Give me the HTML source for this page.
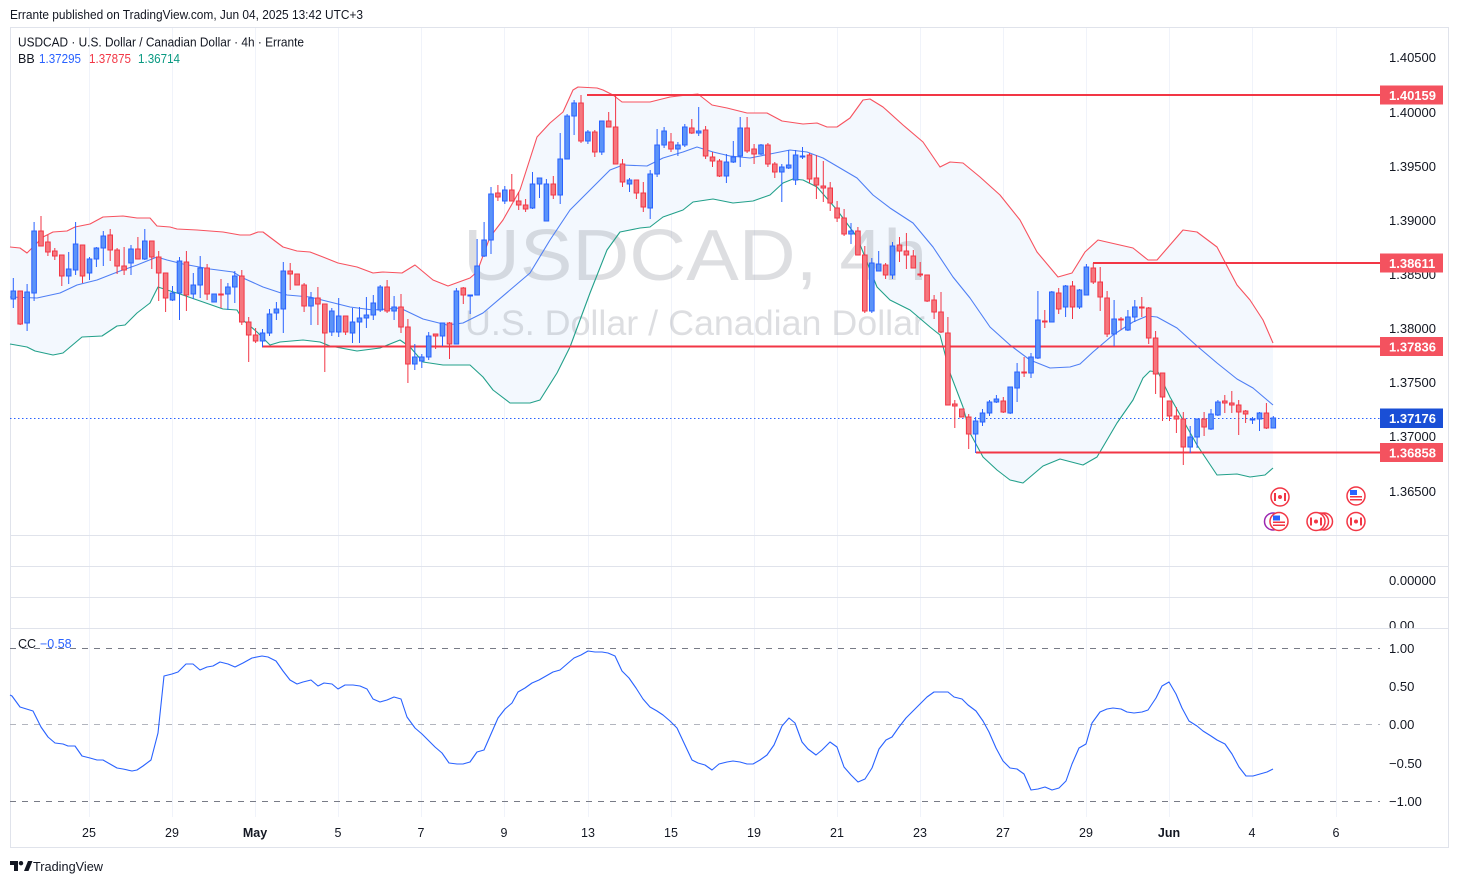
<!DOCTYPE html>
<html><head><meta charset="utf-8"><style>
html,body{margin:0;padding:0;background:#fff;}
svg{display:block;font-family:"Liberation Sans",sans-serif;}
</style></head><body>
<svg width="1459" height="884" viewBox="0 0 1459 884" xmlns="http://www.w3.org/2000/svg">
<rect width="1459" height="884" fill="#fff"/>
<text x="10" y="19" font-size="12.5" fill="#131722" textLength="353" lengthAdjust="spacingAndGlyphs">Errante published on TradingView.com, Jun 04, 2025 13:42 UTC+3</text>
<g stroke="#f0f3fa" stroke-width="1">
<path d="M89.5 28V817M172.5 28V817M255.5 28V817M338.5 28V817M421.5 28V817M504.5 28V817M588.5 28V817M671.5 28V817M754.5 28V817M837.5 28V817M920.5 28V817M1003.5 28V817M1086.5 28V817M1169.5 28V817M1252.5 28V817M1336.5 28V817"/>
</g>
<rect x="10.5" y="27.5" width="1438" height="820" fill="none" stroke="#e0e3eb"/>
<g stroke="#e0e3eb"><path d="M10 535.5H1449M10 566.5H1449M10 597.5H1449M10 628.5H1449"/></g>
<polygon fill="#f3f8fe" points="10,247 20,248 27,253 35,245 43,237 53,232 67,231 75,227 90,224 103,217 123,216 137,218 150,218 157,226 170,227 177,229 197,230 223,232 240,235 250,235 258,232 263,232 283,247 297,251 310,252 323,257 338,263 357,267 373,273 383,272 402,273 415,265 433,280 448,286 470,278 477,272 490,237 503,220 520,190 537,137 550,123 563,112 573,90 578,87 597,88 603,90 613,95 622,102 640,102 650,102 670,97 687,95 698,94 712,105 727,108 747,113 767,113 782,121 803,124 817,123 827,127 837,127 850,118 863,100 870,99 883,107 903,125 923,142 940,167 950,162 963,163 980,177 1000,195 1020,220 1037,252 1058,277 1072,273 1085,252 1098,240 1133,248 1148,260 1157,260 1170,245 1183,230 1197,232 1217,247 1237,285 1250,300 1263,320 1273,343 1273,468 1265,475 1250,477 1237,474 1217,475 1197,445 1183,420 1170,397 1158,372 1150,371 1143,378 1133,400 1117,423 1097,457 1083,465 1060,459 1043,466 1023,483 1010,480 997,470 983,457 970,433 963,407 950,373 940,335 930,327 910,310 890,300 877,287 857,237 837,210 817,187 803,180 793,179 783,183 770,195 753,201 733,203 713,199 693,202 683,210 663,217 650,227 640,228 620,232 607,250 590,293 570,347 557,373 540,400 530,403 510,403 493,390 483,377 470,365 443,365 423,362 410,347 400,340 380,348 357,351 330,346 320,342 303,340 280,342 270,345 257,332 243,320 237,310 223,309 203,302 180,294 167,290 158,287 150,303 137,313 125,325 117,326 102,336 82,337 63,353 53,355 35,351 27,347 10,344"/>
<text x="463" y="280" font-size="72" fill="#787b86" fill-opacity="0.25" textLength="464" lengthAdjust="spacingAndGlyphs">USDCAD, 4h</text>
<text x="465" y="335" font-size="35" fill="#787b86" fill-opacity="0.25" textLength="460" lengthAdjust="spacingAndGlyphs">U.S. Dollar / Canadian Dollar</text>
<g fill="none" stroke-width="1.1" stroke-linejoin="round">
<polyline stroke="#f7525f" points="10,247 20,248 27,253 35,245 43,237 53,232 67,231 75,227 90,224 103,217 123,216 137,218 150,218 157,226 170,227 177,229 197,230 223,232 240,235 250,235 258,232 263,232 283,247 297,251 310,252 323,257 338,263 357,267 373,273 383,272 402,273 415,265 433,280 448,286 470,278 477,272 490,237 503,220 520,190 537,137 550,123 563,112 573,90 578,87 597,88 603,90 613,95 622,102 640,102 650,102 670,97 687,95 698,94 712,105 727,108 747,113 767,113 782,121 803,124 817,123 827,127 837,127 850,118 863,100 870,99 883,107 903,125 923,142 940,167 950,162 963,163 980,177 1000,195 1020,220 1037,252 1058,277 1072,273 1085,252 1098,240 1133,248 1148,260 1157,260 1170,245 1183,230 1197,232 1217,247 1237,285 1250,300 1263,320 1273,343"/>
<polyline stroke="#4f7ff5" points="10,297 37,298 60,293 77,285 97,280 120,271 137,265 157,257 167,260 183,264 210,269 233,272 243,278 263,287 287,295 310,297 330,302 350,307 373,310 400,308 423,319 447,325 463,323 483,313 510,290 530,273 550,240 570,210 593,187 610,170 623,165 647,166 663,158 683,152 697,147 713,152 730,156 750,158 770,154 790,150 807,152 823,158 840,168 857,178 873,195 890,208 913,223 933,247 953,277 970,298 990,327 1010,345 1030,360 1050,368 1070,367 1080,364 1093,352 1113,335 1133,322 1147,316 1157,317 1177,328 1197,346 1217,363 1237,379 1253,388 1273,405"/>
<polyline stroke="#22a08a" points="10,344 27,347 35,351 53,355 63,353 82,337 102,336 117,326 125,325 137,313 150,303 158,287 167,290 180,294 203,302 223,309 237,310 243,320 257,332 270,345 280,342 303,340 320,342 330,346 357,351 380,348 400,340 410,347 423,362 443,365 470,365 483,377 493,390 510,403 530,403 540,400 557,373 570,347 590,293 607,250 620,232 640,228 650,227 663,217 683,210 693,202 713,199 733,203 753,201 770,195 783,183 793,179 803,180 817,187 837,210 857,237 877,287 890,300 910,310 930,327 940,335 950,373 963,407 970,433 983,457 997,470 1010,480 1023,483 1043,466 1060,459 1083,465 1097,457 1117,423 1133,400 1143,378 1150,371 1158,372 1170,397 1183,420 1197,445 1217,475 1237,474 1250,477 1265,475 1273,468"/>
</g>
<g stroke="#f23645" stroke-width="2">
<path d="M587 95H1380M1093 263H1380M262 346.5H1380M976 452.5H1380"/>
</g>
<path d="M10 418.5H1380" stroke="#2962ff" stroke-width="1" stroke-dasharray="1.5,2.5"/>
<path stroke="#2962ff" stroke-width="1" d="M13.3 278V308M27.1 284V331M34.1 222V301M68.7 252V284M75.6 222V275M89.5 257V280M96.4 247V267M103.3 231V266M131 245V275M144.8 229V260M172.5 286V301M179.5 257V320M193.3 273V299M200.2 256V298M214.1 294V302M227.9 283V310M234.8 271V303M262.5 329V347M269.5 309V336M276.4 302V320M283.3 262V333M311 292V325M331.8 308V336M338.7 298V337M352.5 308V343M359.5 307V343M366.4 297V328M373.3 295V320M380.2 285V312M394.1 296V320M414.8 344V370M421.8 354V368M428.7 332V360M442.5 323V346M456.4 288V344M470.2 295V314M477.1 239V295M484.1 222V257M491 187V254M504.8 186V204M532.5 172V209M539.5 178V198M546.4 179V221M560.2 133V204M567.1 114V159M574.1 100V135M587.9 130V144M601.8 121V155M629.5 178V192M650.2 170V219M657.1 129V177M664.1 127V148M677.9 142V156M684.8 124V147M698.7 107V136M726.4 154V183M733.3 141V163M740.2 117V167M761 144V155M781.8 164V202M788.7 150V169M795.6 150V185M802.5 147V159M851 223V244M871.8 258V313M878.7 251V271M892.5 242V279M975.6 417V453M982.5 409V426M989.5 400V416M996.4 395V403M1010.2 387V414M1017.1 363V402M1031 353V378M1037.9 291V359M1051.8 291V322M1065.6 285V317M1079.5 289V309M1086.4 264V295M1114.1 300V346M1127.9 310V331M1134.8 300V322M1190.2 426V453M1197.1 419V448M1211 409V430M1217.9 400V416M1252.5 417V424M1259.5 412V431M1273.3 416V428"/>
<path stroke="#f23645" stroke-width="1" d="M20.2 291V325M41 216V246M47.9 235V256M54.8 248V260M61.8 255V286M82.5 245V283M110.2 229V261M117.1 248V274M124.1 247V275M137.9 237V259M151.8 241V269M158.7 251V301M165.6 273V312M186.4 251V311M207.1 264V300M221 279V308M241.8 270V325M248.7 317V362M255.6 328V343M290.2 263V290M297.1 274V285M304.1 283V312M317.9 287V325M324.8 304V372M345.6 316V335M387.1 280V313M401 294V333M407.9 319V383M435.6 334V349M449.5 322V359M463.3 287V304M497.9 185V201M511.8 174V201M518.7 192V210M525.6 199V212M553.3 176V199M581 95V143M594.8 130V157M608.7 112V127M615.6 95V164M622.5 159V187M636.4 180V199M643.3 182V212M671 133V152M691.8 119V134M705.6 126V159M712.5 152V167M719.5 159V177M747.1 117V153M754.1 144V164M767.9 143V167M774.8 162V178M809.5 153V183M816.4 155V199M823.3 161V202M830.2 182V211M837.1 201V222M844.1 209V236M857.9 227V255M864.8 246V313M885.6 263V279M899.5 237V262M906.4 233V269M913.3 250V268M920.2 262V277M927.1 275V302M934.1 295V319M941 292V333M947.9 317V405M954.8 400V428M961.8 409V417M968.7 414V449M1003.3 397V413M1024.1 357V377M1044.8 310V328M1058.7 288V314M1072.5 281V319M1093.3 263V284M1100.2 267V311M1107.1 291V337M1121 317V330M1141.8 297V317M1148.7 307V344M1155.6 331V394M1162.5 373V421M1169.5 401V421M1176.4 407V433M1183.3 412V465M1204.1 412V436M1224.8 395V413M1231.8 391V413M1238.7 400V435M1245.6 410V423M1266.4 403V429"/>
<g fill="#5b93f8" stroke="#2962ff" stroke-width="1">
<rect x="11" y="291" width="4.6" height="8"/><rect x="24.8" y="292" width="4.6" height="31"/><rect x="31.8" y="231" width="4.6" height="62"/><rect x="66.4" y="269" width="4.6" height="7"/><rect x="73.3" y="244" width="4.6" height="26"/><rect x="87.2" y="259" width="4.6" height="14"/><rect x="94.1" y="248" width="4.6" height="11"/><rect x="101" y="236" width="4.6" height="12"/><rect x="128.7" y="249" width="4.6" height="14"/><rect x="142.5" y="241" width="4.6" height="18"/><rect x="170.2" y="293" width="4.6" height="7"/><rect x="177.2" y="261" width="4.6" height="32"/><rect x="191" y="285" width="4.6" height="9"/><rect x="197.9" y="268" width="4.6" height="17"/><rect x="211.8" y="294" width="4.6" height="8"/><rect x="225.6" y="287" width="4.6" height="7"/><rect x="232.5" y="276" width="4.6" height="11"/><rect x="260.2" y="333" width="4.6" height="8"/><rect x="267.2" y="314" width="4.6" height="19"/><rect x="274.1" y="309" width="4.6" height="4"/><rect x="281" y="271" width="4.6" height="38"/><rect x="308.7" y="298" width="4.6" height="8"/><rect x="329.5" y="311" width="4.6" height="21"/><rect x="336.4" y="316" width="4.6" height="16"/><rect x="350.2" y="322" width="4.6" height="11"/><rect x="357.2" y="318" width="4.6" height="4"/><rect x="364.1" y="315" width="4.6" height="3"/><rect x="371" y="303" width="4.6" height="12"/><rect x="377.9" y="287" width="4.6" height="23"/><rect x="391.8" y="307" width="4.6" height="4"/><rect x="412.5" y="357" width="4.6" height="7"/><rect x="419.5" y="357" width="4.6" height="4"/><rect x="426.4" y="336" width="4.6" height="21"/><rect x="440.2" y="323" width="4.6" height="13"/><rect x="454.1" y="291" width="4.6" height="53"/><rect x="467.9" y="295" width="4.6" height="1"/><rect x="474.8" y="266" width="4.6" height="29"/><rect x="481.8" y="240" width="4.6" height="16"/><rect x="488.7" y="194" width="4.6" height="46"/><rect x="502.5" y="190" width="4.6" height="11"/><rect x="530.2" y="184" width="4.6" height="24"/><rect x="537.2" y="178" width="4.6" height="6"/><rect x="544.1" y="184" width="4.6" height="37"/><rect x="557.9" y="159" width="4.6" height="36"/><rect x="564.8" y="116" width="4.6" height="43"/><rect x="571.8" y="103" width="4.6" height="13"/><rect x="585.6" y="132" width="4.6" height="9"/><rect x="599.5" y="121" width="4.6" height="31"/><rect x="627.2" y="180" width="4.6" height="4"/><rect x="647.9" y="174" width="4.6" height="34"/><rect x="654.8" y="145" width="4.6" height="29"/><rect x="661.8" y="131" width="4.6" height="14"/><rect x="675.6" y="145" width="4.6" height="4"/><rect x="682.5" y="127" width="4.6" height="18"/><rect x="696.4" y="131" width="4.6" height="2"/><rect x="724.1" y="162" width="4.6" height="14"/><rect x="731" y="157" width="4.6" height="5"/><rect x="737.9" y="128" width="4.6" height="28"/><rect x="758.7" y="145" width="4.6" height="9"/><rect x="779.5" y="167" width="4.6" height="5"/><rect x="786.4" y="165" width="4.6" height="3"/><rect x="793.3" y="155" width="4.6" height="25"/><rect x="800.2" y="156" width="4.6" height="1"/><rect x="848.7" y="231" width="4.6" height="3"/><rect x="869.5" y="263" width="4.6" height="48"/><rect x="876.4" y="264" width="4.6" height="7"/><rect x="890.2" y="246" width="4.6" height="29"/><rect x="973.3" y="421" width="4.6" height="13"/><rect x="980.2" y="413" width="4.6" height="9"/><rect x="987.2" y="402" width="4.6" height="11"/><rect x="994.1" y="399" width="4.6" height="3"/><rect x="1007.9" y="387" width="4.6" height="26"/><rect x="1014.8" y="372" width="4.6" height="16"/><rect x="1028.7" y="357" width="4.6" height="16"/><rect x="1035.6" y="320" width="4.6" height="38"/><rect x="1049.5" y="292" width="4.6" height="30"/><rect x="1063.3" y="286" width="4.6" height="21"/><rect x="1077.2" y="290" width="4.6" height="17"/><rect x="1084.1" y="267" width="4.6" height="28"/><rect x="1111.8" y="319" width="4.6" height="15"/><rect x="1125.6" y="317" width="4.6" height="13"/><rect x="1132.5" y="307" width="4.6" height="10"/><rect x="1187.9" y="437" width="4.6" height="10"/><rect x="1194.8" y="419" width="4.6" height="18"/><rect x="1208.7" y="414" width="4.6" height="15"/><rect x="1215.6" y="402" width="4.6" height="13"/><rect x="1250.2" y="419" width="4.6" height="1"/><rect x="1257.2" y="413" width="4.6" height="6"/><rect x="1271" y="418" width="4.6" height="10"/>
</g>
<g fill="#f5777e" stroke="#f23645" stroke-width="1">
<rect x="17.9" y="291" width="4.6" height="33"/><rect x="38.7" y="231" width="4.6" height="15"/><rect x="45.6" y="242" width="4.6" height="10"/><rect x="52.5" y="251" width="4.6" height="5"/><rect x="59.5" y="255" width="4.6" height="21"/><rect x="80.2" y="245" width="4.6" height="31"/><rect x="107.9" y="235" width="4.6" height="15"/><rect x="114.8" y="250" width="4.6" height="16"/><rect x="121.8" y="266" width="4.6" height="4"/><rect x="135.6" y="249" width="4.6" height="10"/><rect x="149.5" y="241" width="4.6" height="16"/><rect x="156.4" y="257" width="4.6" height="16"/><rect x="163.3" y="273" width="4.6" height="25"/><rect x="184.1" y="262" width="4.6" height="33"/><rect x="204.8" y="268" width="4.6" height="26"/><rect x="218.7" y="294" width="4.6" height="1"/><rect x="239.5" y="276" width="4.6" height="46"/><rect x="246.4" y="322" width="4.6" height="13"/><rect x="253.3" y="335" width="4.6" height="6"/><rect x="287.9" y="271" width="4.6" height="3"/><rect x="294.8" y="274" width="4.6" height="11"/><rect x="301.8" y="285" width="4.6" height="21"/><rect x="315.6" y="298" width="4.6" height="6"/><rect x="322.5" y="304" width="4.6" height="29"/><rect x="343.3" y="316" width="4.6" height="16"/><rect x="384.8" y="287" width="4.6" height="24"/><rect x="398.7" y="307" width="4.6" height="20"/><rect x="405.6" y="327" width="4.6" height="37"/><rect x="433.3" y="334" width="4.6" height="2"/><rect x="447.2" y="323" width="4.6" height="21"/><rect x="461" y="288" width="4.6" height="7"/><rect x="495.6" y="193" width="4.6" height="4"/><rect x="509.5" y="190" width="4.6" height="11"/><rect x="516.4" y="201" width="4.6" height="4"/><rect x="523.3" y="205" width="4.6" height="4"/><rect x="551" y="184" width="4.6" height="11"/><rect x="578.7" y="103" width="4.6" height="38"/><rect x="592.5" y="132" width="4.6" height="20"/><rect x="606.4" y="121" width="4.6" height="6"/><rect x="613.3" y="127" width="4.6" height="37"/><rect x="620.2" y="164" width="4.6" height="18"/><rect x="634.1" y="180" width="4.6" height="13"/><rect x="641" y="193" width="4.6" height="14"/><rect x="668.7" y="142" width="4.6" height="7"/><rect x="689.5" y="128" width="4.6" height="5"/><rect x="703.3" y="130" width="4.6" height="26"/><rect x="710.2" y="157" width="4.6" height="4"/><rect x="717.2" y="161" width="4.6" height="15"/><rect x="744.8" y="128" width="4.6" height="23"/><rect x="751.8" y="149" width="4.6" height="5"/><rect x="765.6" y="145" width="4.6" height="19"/><rect x="772.5" y="164" width="4.6" height="8"/><rect x="807.2" y="155" width="4.6" height="24"/><rect x="814.1" y="178" width="4.6" height="7"/><rect x="821" y="186" width="4.6" height="2"/><rect x="827.9" y="188" width="4.6" height="15"/><rect x="834.8" y="208" width="4.6" height="10"/><rect x="841.8" y="218" width="4.6" height="16"/><rect x="855.6" y="231" width="4.6" height="24"/><rect x="862.5" y="255" width="4.6" height="56"/><rect x="883.3" y="265" width="4.6" height="10"/><rect x="897.2" y="245" width="4.6" height="6"/><rect x="904.1" y="251" width="4.6" height="4"/><rect x="911" y="256" width="4.6" height="12"/><rect x="917.9" y="274" width="4.6" height="1"/><rect x="924.8" y="275" width="4.6" height="26"/><rect x="931.8" y="300" width="4.6" height="12"/><rect x="938.7" y="312" width="4.6" height="20"/><rect x="945.6" y="333" width="4.6" height="72"/><rect x="952.5" y="404" width="4.6" height="2"/><rect x="959.5" y="409" width="4.6" height="8"/><rect x="966.4" y="417" width="4.6" height="17"/><rect x="1001" y="401" width="4.6" height="11"/><rect x="1021.8" y="372" width="4.6" height="1"/><rect x="1042.5" y="321" width="4.6" height="1"/><rect x="1056.4" y="293" width="4.6" height="16"/><rect x="1070.2" y="286" width="4.6" height="21"/><rect x="1091" y="268" width="4.6" height="14"/><rect x="1097.9" y="282" width="4.6" height="15"/><rect x="1104.8" y="298" width="4.6" height="36"/><rect x="1118.7" y="319" width="4.6" height="1"/><rect x="1139.5" y="307" width="4.6" height="1"/><rect x="1146.4" y="308" width="4.6" height="30"/><rect x="1153.3" y="338" width="4.6" height="36"/><rect x="1160.2" y="373" width="4.6" height="24"/><rect x="1167.2" y="401" width="4.6" height="15"/><rect x="1174.1" y="416" width="4.6" height="3"/><rect x="1181" y="419" width="4.6" height="28"/><rect x="1201.8" y="419" width="4.6" height="8"/><rect x="1222.5" y="401" width="4.6" height="2"/><rect x="1229.5" y="403" width="4.6" height="2"/><rect x="1236.4" y="405" width="4.6" height="7"/><rect x="1243.3" y="411" width="4.6" height="3"/><rect x="1264.1" y="413" width="4.6" height="15"/>
</g>
<!-- legend -->
<text x="18" y="46.5" font-size="12.5" fill="#131722" textLength="286" lengthAdjust="spacingAndGlyphs">USDCAD · U.S. Dollar / Canadian Dollar · 4h · Errante</text>
<text x="18" y="63" font-size="12.5" fill="#131722">BB</text>
<text x="39" y="63" font-size="12.5" fill="#2962ff" textLength="42" lengthAdjust="spacingAndGlyphs">1.37295</text>
<text x="89" y="63" font-size="12.5" fill="#f23645" textLength="42" lengthAdjust="spacingAndGlyphs">1.37875</text>
<text x="138" y="63" font-size="12.5" fill="#089981" textLength="42" lengthAdjust="spacingAndGlyphs">1.36714</text>
<!-- price axis -->
<g font-size="13" fill="#131722">
<text x="1389" y="62">1.40500</text>
<text x="1389" y="117">1.40000</text>
<text x="1389" y="171">1.39500</text>
<text x="1389" y="225">1.39000</text>
<text x="1389" y="279">1.38500</text>
<text x="1389" y="333">1.38000</text>
<text x="1389" y="387">1.37500</text>
<text x="1389" y="441">1.37000</text>
<text x="1389" y="496">1.36500</text>
<text x="1389" y="585">0.00000</text>
</g>
<svg x="1380" y="598" width="70" height="30"><text x="9" y="32" font-size="13" fill="#131722">0.00</text></svg>
<g>
<rect x="1380" y="85.5" width="63" height="19" fill="#f4525f"/>
<rect x="1380" y="253.5" width="63" height="19" fill="#f4525f"/>
<rect x="1380" y="337" width="63" height="19" fill="#f4525f"/>
<rect x="1380" y="408.5" width="63" height="19.5" fill="#1a4fd6"/>
<rect x="1380" y="443" width="63" height="19" fill="#f4525f"/>
</g>
<g font-size="13" font-weight="bold" fill="#fff">
<text x="1389" y="100">1.40159</text>
<text x="1389" y="268">1.38611</text>
<text x="1389" y="351.5">1.37836</text>
<text x="1389" y="423">1.37176</text>
<text x="1389" y="457.5">1.36858</text>
</g>
<!-- events -->
<g fill="#fff" stroke="#f23645" stroke-width="1.5">
<circle cx="1273" cy="521.5" r="8.5" stroke="#9c27b0"/>
<circle cx="1324" cy="521.5" r="8.5"/>
<circle cx="1320" cy="521.5" r="8.5"/>
<circle cx="1280" cy="497" r="9"/>
<circle cx="1356" cy="496" r="9"/>
<circle cx="1279" cy="521.5" r="9"/>
<circle cx="1316" cy="521.5" r="9"/>
<circle cx="1356" cy="521.5" r="9"/>
</g>
<g fill="#f23645">
<circle cx="1280" cy="497" r="2"/><rect x="1274" y="493" width="2" height="8"/><rect x="1284" y="493" width="2" height="8"/>
<circle cx="1316" cy="521.5" r="2"/><rect x="1310" y="517.5" width="2" height="8"/><rect x="1320" y="517.5" width="2" height="8"/>
<circle cx="1356" cy="521.5" r="2"/><rect x="1350" y="517.5" width="2" height="8"/><rect x="1360" y="517.5" width="2" height="8"/>
<rect x="1350" y="496" width="12" height="1.5"/><rect x="1350" y="499" width="12" height="1.5"/>
<rect x="1273" y="521.5" width="12" height="1.5"/><rect x="1273" y="524.5" width="12" height="1.5"/>
</g>
<g fill="#2962ff"><rect x="1350" y="490" width="7" height="5"/><rect x="1273" y="515.5" width="7" height="5"/></g>
<!-- CC pane -->
<g stroke-width="1" stroke-dasharray="6,6">
<path d="M10 648.5H1380" stroke="#787b86"/>
<path d="M10 724.5H1380" stroke="#b2b5be"/>
<path d="M10 801.5H1380" stroke="#787b86"/>
</g>
<text x="18" y="648" font-size="12.5" fill="#131722">CC</text>
<text x="40" y="648" font-size="12.5" fill="#2962ff">−0.58</text>
<polyline fill="none" stroke="#2962ff" stroke-width="1.1" stroke-linejoin="round" points="10,695 12,696 20,707 33,711 41,727 48,737 55,743 63,744 68,746 75,746 82,756 90,758 97,760 103,760 110,764 117,768 123,769 132,771 137,770 143,766 151,760 158,733 164,676 172,674 178,672 186,664 193,664 200,670 207,667 213,666 220,662 228,664 235,667 243,663 252,658 262,656 268,657 276,661 283,671 290,680 297,684 303,682 311,680 318,686 324,683 332,684 338,689 345,685 353,685 360,686 367,689 373,699 380,702 387,700 394,697 401,699 407,717 415,728 422,734 435,747 442,753 449,763 457,764 463,764 470,762 477,752 484,750 491,734 498,718 505,709 512,703 518,692 525,688 532,683 539,680 546,676 553,672 560,670 567,664 574,658 581,655 588,651 595,652 602,652 608,653 615,656 622,671 629,678 636,688 643,699 650,707 657,711 663,715 670,721 677,728 684,743 692,760 698,763 705,765 712,770 719,764 727,762 733,761 740,762 747,764 753,764 760,760 767,755 774,745 782,726 789,718 795,723 802,742 808,749 816,755 822,750 830,742 837,747 844,767 851,775 858,782 865,779 872,768 879,749 886,740 892,737 899,727 906,718 913,711 920,704 927,697 934,692 941,692 948,692 954,697 962,699 968,705 976,711 983,721 989,732 996,748 1003,761 1010,768 1017,769 1024,774 1031,790 1038,789 1045,787 1052,790 1059,788 1066,781 1072,764 1079,748 1086,744 1092,723 1100,712 1107,709 1113,708 1121,709 1127,712 1134,713 1142,712 1148,710 1156,698 1162,686 1169,682 1176,694 1182,708 1189,721 1197,726 1203,731 1211,736 1217,740 1225,744 1232,754 1239,767 1246,776 1253,776 1260,774 1267,772 1273,769"/>
<g font-size="13" fill="#131722">
<text x="1389" y="653">1.00</text>
<text x="1389" y="691">0.50</text>
<text x="1389" y="729">0.00</text>
<text x="1389" y="768">−0.50</text>
<text x="1389" y="806">−1.00</text>
</g>
<!-- time axis -->
<g font-size="12.5" fill="#131722" text-anchor="middle">
<text x="89" y="837">25</text>
<text x="172" y="837">29</text>
<text x="255" y="837" font-weight="bold">May</text>
<text x="338" y="837">5</text>
<text x="421" y="837">7</text>
<text x="504" y="837">9</text>
<text x="588" y="837">13</text>
<text x="671" y="837">15</text>
<text x="754" y="837">19</text>
<text x="837" y="837">21</text>
<text x="920" y="837">23</text>
<text x="1003" y="837">27</text>
<text x="1086" y="837">29</text>
<text x="1169" y="837" font-weight="bold">Jun</text>
<text x="1252" y="837">4</text>
<text x="1336" y="837">6</text>
</g>
<!-- footer -->
<g fill="#131722">
<path d="M10 861h8v10h-4v-6h-4z"/>
<circle cx="21" cy="863.2" r="2.2"/>
<path d="M24 871l4-10h4.5l-4 10z"/>
</g>
<text x="33" y="871" font-size="13" fill="#131722" textLength="70" lengthAdjust="spacingAndGlyphs">TradingView</text>
</svg>
</body></html>
